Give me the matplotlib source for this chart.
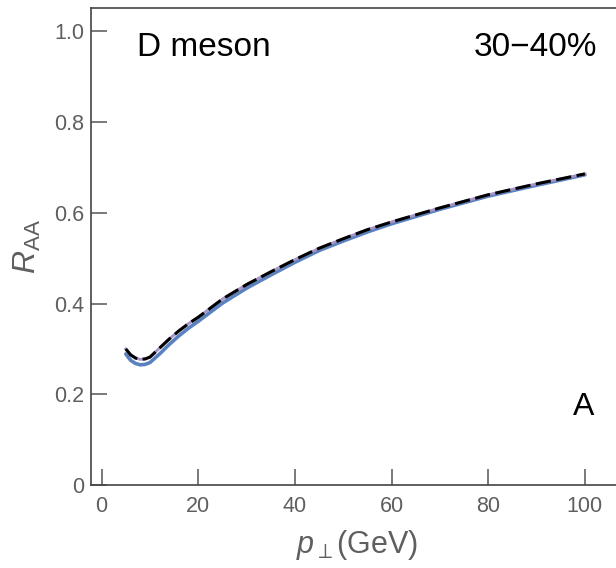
import numpy as np
import matplotlib
matplotlib.use("Agg")
import matplotlib.pyplot as plt

plt.rcParams['font.family'] = ['Liberation Sans', 'DejaVu Sans']
plt.rcParams['mathtext.fontset'] = 'custom'
plt.rcParams['mathtext.rm'] = 'Liberation Sans'
plt.rcParams['mathtext.it'] = 'Liberation Sans:italic'

# transverse momentum (GeV)
pt = [5, 6, 7, 8, 9, 10, 12, 14, 16, 18, 20, 25, 30, 35, 40, 45, 50, 55, 60, 70, 80, 90, 100]
# R_AA curves
raa_blue = [0.289, 0.275, 0.268, 0.265, 0.266, 0.270, 0.289, 0.310, 0.329, 0.346, 0.361,
            0.401, 0.434, 0.463, 0.491, 0.517, 0.538, 0.558, 0.576, 0.608, 0.637, 0.661, 0.684]
raa_purple = [0.300, 0.287, 0.280, 0.277, 0.278, 0.282, 0.302, 0.322, 0.340, 0.356, 0.370,
              0.410, 0.442, 0.470, 0.497, 0.522, 0.543, 0.563, 0.580, 0.611, 0.640, 0.664, 0.686]
raa_black = [0.300, 0.287, 0.280, 0.277, 0.278, 0.282, 0.302, 0.322, 0.340, 0.356, 0.370,
             0.410, 0.442, 0.470, 0.497, 0.522, 0.543, 0.563, 0.580, 0.611, 0.640, 0.664, 0.686]

xticks = [0, 20, 40, 60, 80, 100]
yticks = [0, 0.2, 0.4, 0.6, 0.8, 1.0]
ytick_labels = ['0', '0.2', '0.4', '0.6', '0.8', '1.0']

fig = plt.figure(figsize=(6.16, 5.68), dpi=100)
ax = fig.add_axes([0.1477, 0.1461, 0.8646, 0.8400])

ax.plot(pt, raa_blue, color='#5b82c0', lw=2.6, solid_capstyle='round')
ax.plot(pt, raa_purple, color='#a592c6', lw=2.0)
ax.plot(pt, raa_black, color='black', lw=2.2, dashes=(5, 1.8))

ax.set_xlim(-2.2, 108)
ax.set_ylim(0, 1.052)

ax.set_xticks(xticks)
ax.set_yticks(yticks)
ax.set_yticklabels(ytick_labels)
ax.tick_params(direction='in', length=11.5, width=1.1, color='#555555',
               labelsize=15.5, labelcolor='#5f5f5f')
ax.tick_params(axis='x', pad=8)
ax.tick_params(axis='y', pad=5)

for side in ['left', 'bottom', 'top', 'right']:
    ax.spines[side].set_color('#444444')
    ax.spines[side].set_linewidth(1.2)

ax.set_xlabel(r'$p_{\perp}$(GeV)', fontsize=22, color='#5f5f5f', labelpad=8)
ax.set_ylabel(r'$R_{\rm AA}$', fontsize=23, color='#5f5f5f', labelpad=8)

ax.text(7.3, 0.947, 'D meson', fontsize=24, color='black', ha='left', va='baseline')
ax.text(102.5, 0.947, '30\u221240%', fontsize=24, color='black', ha='right', va='baseline')
ax.text(102.0, 0.154, 'A', fontsize=23, color='black', ha='right', va='baseline')

fig.savefig('out.png', dpi=100)
